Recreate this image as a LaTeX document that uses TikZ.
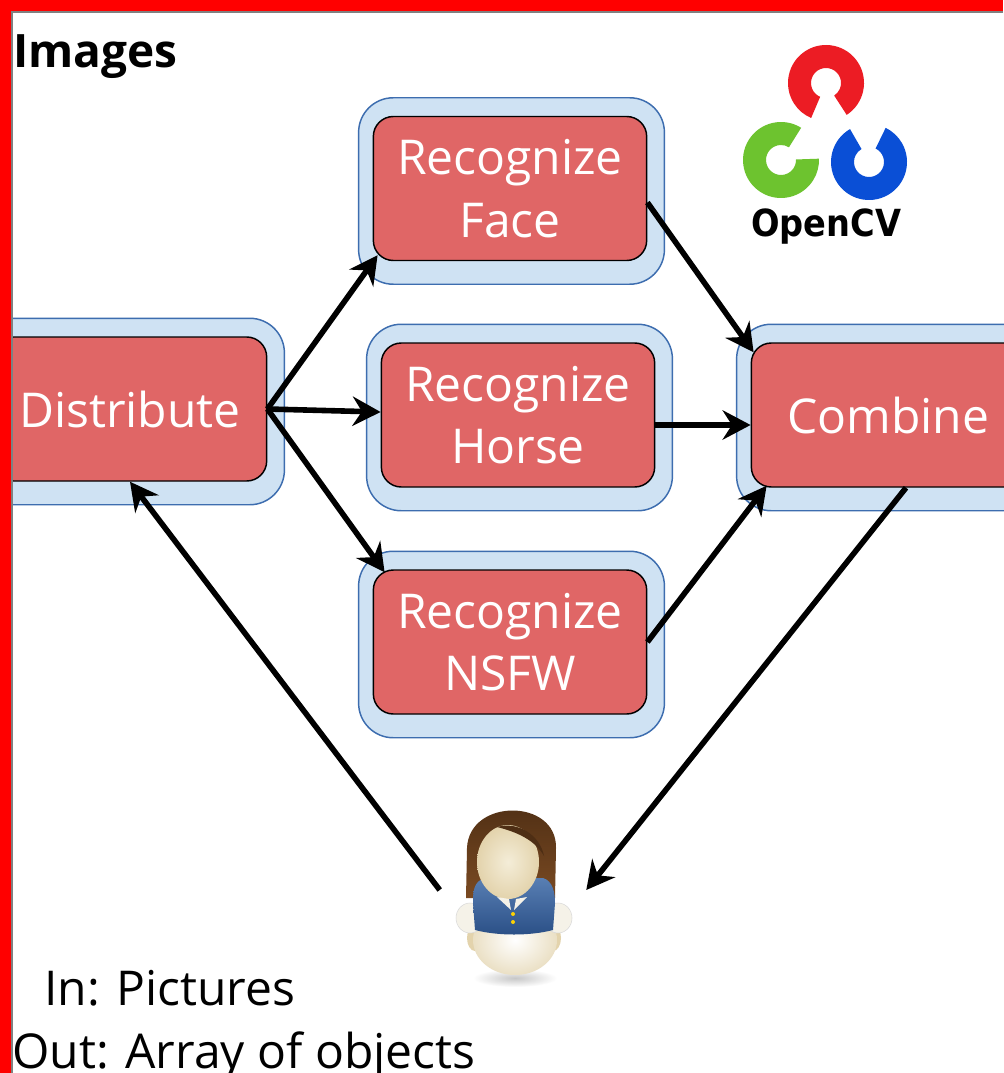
\documentclass[tikz,border=0pt]{standalone}
\usepackage{fontspec}
\setmainfont{Open Sans}
\newfontfamily\logofont{DejaVu Sans}
\usepackage{graphicx}
\usetikzlibrary{positioning,arrows.meta,calc,backgrounds}
\definecolor{taskred}{HTML}{E06666}
\definecolor{halofill}{HTML}{CFE2F3}
\definecolor{haloline}{HTML}{3D6DAF}
\definecolor{framered}{HTML}{FF0000}
\definecolor{cvred}{HTML}{EC1C24}
\definecolor{cvgreen}{HTML}{6DC32F}
\definecolor{cvblue}{HTML}{0A4FD6}
\definecolor{hairbrown}{HTML}{7A4A22}
\definecolor{hairdark}{HTML}{4E2E14}
\definecolor{skin}{HTML}{E3D3AC}
\definecolor{skinlight}{HTML}{F4EDD8}
\definecolor{vestblue}{HTML}{3B68A6}
\definecolor{vestdark}{HTML}{2A4F86}
\definecolor{shirt}{HTML}{F5F2E8}
% one broken ring of the logo: centre, colour, direction of the gap
\newcommand\cvring[3]{%
  \fill[#2] (#1) ++(#3+28:38) arc[start angle=#3+28,end angle=#3+332,radius=38]
    -- ++(#3+152:23) arc[start angle=#3+332,end angle=#3+28,radius=15] -- cycle;}

\begin{document}
\begin{tikzpicture}[x=0.75pt,y=-0.75pt,>={Stealth[length=21pt,width=22pt,inset=7pt]},
  task/.style={draw=black,line width=1.1pt,fill=taskred,rounded corners=15pt,text=white,
    align=center,minimum width=205pt,minimum height=108pt,inner sep=0pt,
    font=\fontsize{36}{47}\selectfont},
  halo/.style={draw=haloline,line width=1.1pt,fill=halofill,rounded corners=26pt},
  link/.style={->,line width=4.2pt},
  note/.style={anchor=base west,inner sep=0pt,font=\fontsize{36}{44}\selectfont}]
\useasboundingbox (0,0) rectangle (1003,1073);

% the pipeline
\node[task] (dist) at (130,409) {Distribute};
\node[task] (face) at (510,188.5) {Recognize\\Face};
\node[task] (horse) at (518,415) {Recognize\\Horse};
\node[task] (nsfw) at (510,642) {Recognize\\NSFW};
\node[task] (comb) at (888,415) {Combine};
\begin{scope}[on background layer]
  \fill[white] (0,0) rectangle (1003,1073);
  \foreach \n in {dist,face,horse,nsfw,comb}
    \draw[halo] ($(\n.north west)+(-14,-18)$) rectangle ($(\n.south east)+(17,23)$);
\end{scope}

% the user
\node[minimum width=109.5pt,minimum height=135pt,inner sep=0pt] (user) at (513,890) {};
\begin{scope}[shift={($(user.center)+(0,8)$)}]
  \shade[inner color=black!22,outer color=white] (2,80) ellipse [x radius=42,y radius=9];
  \shade[top color=hairdark,bottom color=hairbrown] (-47,0) -- (-46,-50)
    .. controls (-44,-100) and (44,-100) .. (43,-50) -- (42,0) -- cycle;
  \fill[skin] (-38,40) ellipse [x radius=8,y radius=13];
  \fill[skin] (40,40) ellipse [x radius=8,y radius=13];
  \shade[inner color=white,outer color=skin!60!shirt] (2,42) ellipse [x radius=42,y radius=35];
  \fill[shirt,draw=black!15] (-43,20) ellipse [x radius=14,y radius=15];
  \fill[shirt,draw=black!15] (45,20) ellipse [x radius=14,y radius=15];
  \shade[top color=vestblue!85!white,bottom color=vestdark] (-28,-20)
    .. controls (-40,-17) and (-40,-5) .. (-40,5) -- (-38,32)
    .. controls (-15,38) and (17,38) .. (40,32) -- (42,5)
    .. controls (42,-5) and (40,-17) .. (30,-20) -- cycle;
  \shade[inner color=skinlight,outer color=skin] (-5,-36) ellipse [x radius=31,y radius=37];
  \fill[hairdark] (-16,-71) .. controls (5,-77) and (27,-63) .. (31,-42)
    .. controls (22,-58) and (4,-66) .. (-16,-71) -- cycle;
  \fill[shirt] (-16,-1) -- (-2,12) -- (-4,1) -- cycle;
  \fill[shirt] (14,-1) -- (1,12) -- (3,1) -- cycle;
  \fill[yellow!70!orange] (0,16) circle[radius=2];
  \fill[yellow!70!orange] (0,24) circle[radius=2];
\end{scope}

% connectors
\draw[link] (dist.east) -- ($(face.south west)+(5,-6)$);
\draw[link] (dist.east) -- ($(horse.west)+(0,-3)$);
\draw[link] (dist.east) -- ($(nsfw.north west)+(12,3)$);
\draw[link] ($(face.east)+(0,14)$) -- ($(comb.north west)+(3,10)$);
\draw[link] ($(horse.east)+(0,10)$) -- ($(comb.west)+(0,10)$);
\draw[link] (nsfw.east) -- ($(comb.south west)+(16,-2)$);
\draw[link] ($(comb.south)+(18,0)$) -- (user.east);
\draw[link] (user.west) -- (dist.south);

% logo
\begin{scope}[shift={(826,83)},yscale=-1]
  \cvring{0,0}{cvred}{-85}
  \cvring{-45,-77}{cvgreen}{30}
  \cvring{43,-79}{cvblue}{92}
\end{scope}
\node[anchor=base,inner sep=0pt,font=\logofont\bfseries\fontsize{28}{28}\selectfont] (cvname)
  at (826,237) {\scalebox{0.9}[1]{OpenCV}};

% texts
\node[note,font=\bfseries\fontsize{34.5}{40}\selectfont] (title) at (13,68) {Images};
\node[note] (input) at (44,1005) {In: Pictures};
\node[note] (output) at (12,1068) {Out: Array of objects};

% slide frame
\fill[framered] (0,0) rectangle (1003,11);
\fill[framered] (0,0) rectangle (11,1073);
\draw[gray,line width=1.1pt] (12,1073) -- (12,12) -- (1003,12);
\end{tikzpicture}
\end{document}
